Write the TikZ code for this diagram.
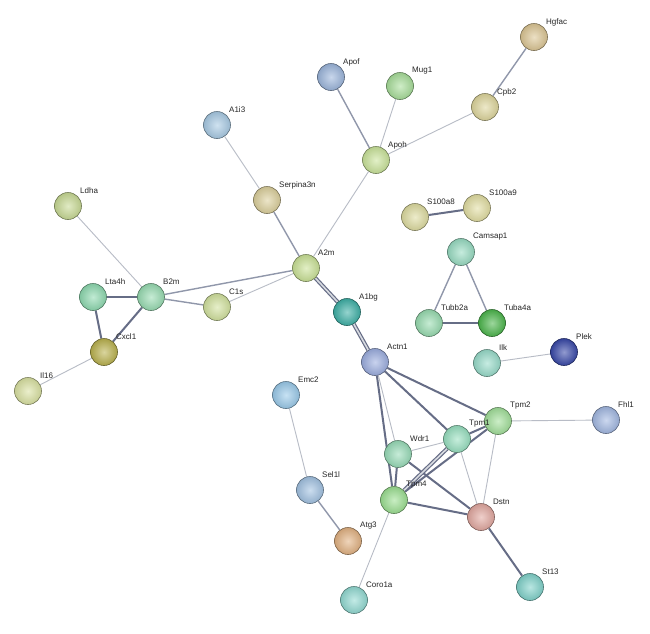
\documentclass[tikz,border=0pt]{standalone}
\usepackage{fontspec}
\setmainfont{Liberation Sans}
\usetikzlibrary{calc}
\pgfdeclarelayer{bg}
\pgfdeclarelayer{paper}
\pgfsetlayers{paper,bg,main}
\definecolor{cA1i3}{HTML}{A8CAE4}
\definecolor{cSerp}{HTML}{DCD09C}
\definecolor{cLdha}{HTML}{C8DA94}
\definecolor{cA2m}{HTML}{CAE296}
\definecolor{cLta}{HTML}{8EDAB0}
\definecolor{cB2m}{HTML}{98DCB2}
\definecolor{cC1s}{HTML}{D2E29E}
\definecolor{cApof}{HTML}{9CB6DC}
\definecolor{cMug}{HTML}{A8DE9A}
\definecolor{cHgf}{HTML}{DCC694}
\definecolor{cCpb}{HTML}{DED69C}
\definecolor{cApoh}{HTML}{CAE49A}
\definecolor{cS8}{HTML}{DEDCA0}
\definecolor{cS9}{HTML}{E2DEA2}
\definecolor{cCam}{HTML}{98DCC2}
\definecolor{cTubb}{HTML}{98DCB0}
\definecolor{cTuba}{HTML}{4CB64C}
\definecolor{cA1bg}{HTML}{3EB0A6}
\definecolor{cActn}{HTML}{9CAEE0}
\definecolor{cIlk}{HTML}{98DCCA}
\definecolor{cPlek}{HTML}{3848A8}
\definecolor{cTpm2}{HTML}{A2E09A}
\definecolor{cFhl}{HTML}{A2B8E2}
\definecolor{cTpm1}{HTML}{98E0C0}
\definecolor{cWdr}{HTML}{98DCB8}
\definecolor{cTpm4}{HTML}{9CE092}
\definecolor{cDstn}{HTML}{E2A8A0}
\definecolor{cAtg}{HTML}{E2B282}
\definecolor{cSt}{HTML}{80D2CA}
\definecolor{cCoro}{HTML}{92DAD2}
\definecolor{cSel}{HTML}{A2C2E2}
\definecolor{cEmc}{HTML}{9ACAEA}
\definecolor{cCxcl}{HTML}{BAB24E}
\definecolor{cIl}{HTML}{DAE2A2}
\definecolor{ewkc}{HTML}{B8BCC6}
\definecolor{emdc}{HTML}{9097AA}
\definecolor{estc}{HTML}{666D86}
\tikzset{
  gene/.style={circle, minimum size=27pt, inner sep=0pt, draw=#1!55!black, line width=0.6pt,
    inner color=#1!55!white, outer color=#1!90!black, shading=radial,
    path picture={\fill[white, opacity=0.6] ($(path picture bounding box.north)+(0,-7)$) ellipse (8pt and 4pt);}},
  lbl/.style={anchor=west, font=\fontsize{8}{9}\selectfont, text=black!85, inner sep=0pt},
  ewk/.style={draw=ewkc, line width=0.9pt},
  emd/.style={draw=emdc, line width=1.4pt},
  est/.style={draw=estc, line width=2pt},
  edbl/.style={draw=estc, line width=1.2pt, double=emdc!35, double distance=1.6pt},
}
\newcommand\gn[5]{\node[gene=#4] (#1) at (#2,#3) {};
  \node[lbl] (#1-l) at ($(#1)+(12,-15)$) {#5};}
\begin{document}
\begin{tikzpicture}[x=1pt,y=-1pt]
\begin{pgfonlayer}{paper}
\fill[white] (0,0) rectangle (650,633);
\end{pgfonlayer}
\useasboundingbox (0,0) rectangle (650,633);
\gn{A1i3}{217}{125}{cA1i3}{A1i3}
\gn{Serp}{267}{200}{cSerp}{Serpina3n}
\gn{Ldha}{68}{206}{cLdha}{Ldha}
\gn{A2m}{306}{268}{cA2m}{A2m}
\gn{Lta}{93}{297}{cLta}{Lta4h}
\gn{B2m}{151}{297}{cB2m}{B2m}
\gn{C1s}{217}{307}{cC1s}{C1s}
\gn{Apof}{331}{77}{cApof}{Apof}
\gn{Mug}{400}{86}{cMug}{Mug1}
\gn{Hgf}{534}{37}{cHgf}{Hgfac}
\gn{Cpb}{485}{107}{cCpb}{Cpb2}
\gn{Apoh}{376}{160}{cApoh}{Apoh}
\gn{S8}{415}{217}{cS8}{S100a8}
\gn{S9}{477}{208}{cS9}{S100a9}
\gn{Cam}{461}{252}{cCam}{Camsap1}
\gn{A1bg}{347}{312}{cA1bg}{A1bg}
\gn{Actn}{375}{362}{cActn}{Actn1}
\gn{Tubb}{429}{323}{cTubb}{Tubb2a}
\gn{Tuba}{492}{323}{cTuba}{Tuba4a}
\gn{Ilk}{487}{363}{cIlk}{Ilk}
\gn{Plek}{564}{352}{cPlek}{Plek}
\gn{Tpm2}{498}{421}{cTpm2}{Tpm2}
\gn{Fhl}{606}{420}{cFhl}{Fhl1}
\gn{Tpm1}{457}{439}{cTpm1}{Tpm1}
\gn{Wdr}{398}{454}{cWdr}{Wdr1}
\gn{Tpm4}{394}{500}{cTpm4}{Tpm4}
\gn{Dstn}{481}{517}{cDstn}{Dstn}
\gn{Atg}{348}{541}{cAtg}{Atg3}
\gn{St}{530}{587}{cSt}{St13}
\gn{Coro}{354}{600}{cCoro}{Coro1a}
\gn{Sel}{310}{490}{cSel}{Sel1l}
\gn{Emc}{286}{395}{cEmc}{Emc2}
\gn{Cxcl}{104}{352}{cCxcl}{Cxcl1}
\gn{Il}{28}{391}{cIl}{Il16}
\begin{pgfonlayer}{bg}
\draw[ewk] (A1i3) -- (Serp);
\draw[ewk] (Ldha) -- (B2m);
\draw[ewk] (Cxcl) -- (Il);
\draw[ewk] (C1s) -- (A2m);
\draw[ewk] (A2m) -- (Apoh);
\draw[ewk] (Apoh) -- (Cpb);
\draw[ewk] (Mug) -- (Apoh);
\draw[ewk] (Ilk) -- (Plek);
\draw[ewk] (Actn) -- (Wdr);
\draw[ewk] (Tpm2) -- (Fhl);
\draw[ewk] (Tpm2) -- (Dstn);
\draw[ewk] (Tpm1) -- (Wdr);
\draw[ewk] (Tpm1) -- (Dstn);
\draw[ewk] (Tpm4) -- (Coro);
\draw[ewk] (Emc) -- (Sel);
\draw[emd] (Serp) -- (A2m);
\draw[emd] (B2m) -- (A2m);
\draw[emd] (B2m) -- (C1s);
\draw[emd] (Apof) -- (Apoh);
\draw[emd] (Cpb) -- (Hgf);
\draw[emd] (Cam) -- (Tubb);
\draw[emd] (Cam) -- (Tuba);
\draw[emd] (Sel) -- (Atg);
\draw[est] (Lta) -- (B2m);
\draw[est] (Lta) -- (Cxcl);
\draw[est] (B2m) -- (Cxcl);
\draw[est] (S8) -- (S9);
\draw[est] (Tubb) -- (Tuba);
\draw[est] (Actn) -- (Tpm2);
\draw[est] (Actn) -- (Tpm1);
\draw[est] (Actn) -- (Tpm4);
\draw[est] (Tpm2) -- (Tpm1);
\draw[est] (Tpm2) -- (Tpm4);
\draw[est] (Wdr) -- (Tpm4);
\draw[est] (Wdr) -- (Dstn);
\draw[est] (Tpm4) -- (Dstn);
\draw[est] (Dstn) -- (St);
\draw[edbl] (A2m) -- (A1bg);
\draw[edbl] (A1bg) -- (Actn);
\draw[edbl] (Tpm1) -- (Tpm4);
\end{pgfonlayer}
\end{tikzpicture}
\end{document}
